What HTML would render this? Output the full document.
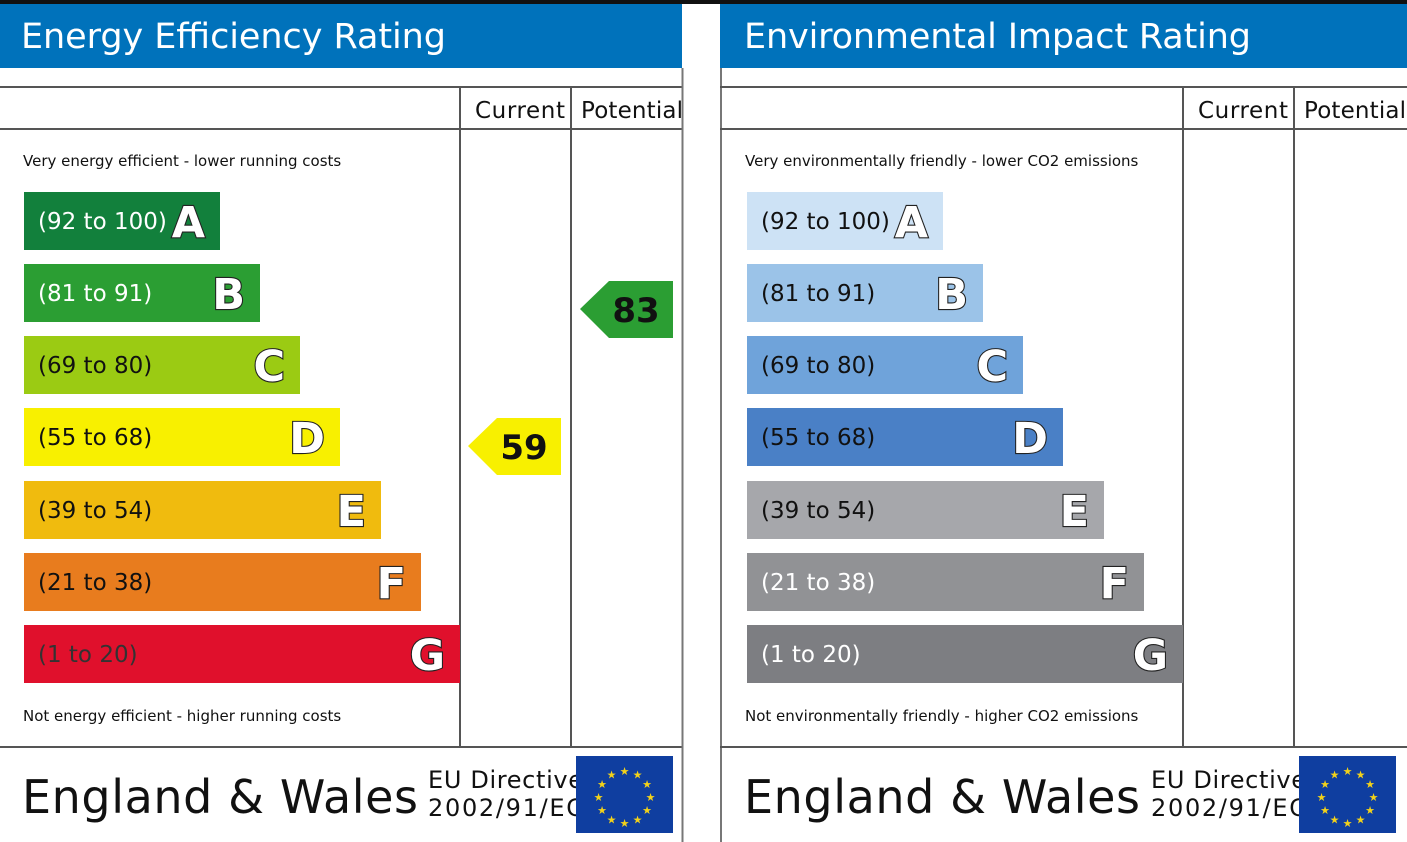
<!DOCTYPE html>
<html><head><meta charset="utf-8"><style>
html,body{margin:0;padding:0;background:#fff;width:1407px;height:842px;overflow:hidden}
svg{display:block;font-family:"DejaVu Sans","Liberation Sans",sans-serif}
.let{font-weight:bold;font-size:43px;fill:#fff;stroke:#222;stroke-width:2.2px;paint-order:stroke}
</style></head><body>
<svg width="1407" height="842" viewBox="0 0 1407 842">
<rect x="0" y="0" width="1407" height="4" fill="#111"/>
<defs><clipPath id="cl"><rect x="0" y="0" width="682" height="842"/></clipPath><clipPath id="cr"><rect x="720" y="0" width="687" height="842"/></clipPath></defs>
<g id="L" clip-path="url(#cl)">
<rect x="0" y="4" width="683" height="64" fill="#0072bb"/>
<text x="21" y="48" font-size="35" fill="#fff" textLength="425">Energy Efficiency Rating</text>
<g stroke="#555" stroke-width="2" fill="none">
<line x1="0" y1="87" x2="683" y2="87"/><line x1="0" y1="129" x2="683" y2="129"/>
<line x1="0" y1="747" x2="683" y2="747"/>
<line x1="460" y1="87" x2="460" y2="747"/><line x1="571" y1="87" x2="571" y2="747"/>
</g>
<text x="475" y="118" font-size="23" fill="#111" textLength="90">Current</text>
<text x="581" y="118" font-size="23" fill="#111" textLength="102">Potential</text>
<text x="23" y="166" font-size="15" fill="#111">Very energy efficient - lower running costs</text>
<text x="23" y="721" font-size="15" fill="#111">Not energy efficient - higher running costs</text>
<rect x="24" y="192" width="196" height="58" fill="#12803c"/>
<rect x="24" y="264" width="236" height="58" fill="#2b9e33"/>
<rect x="24" y="336" width="276" height="58" fill="#9bcb13"/>
<rect x="24" y="408" width="316" height="58" fill="#f8f000"/>
<rect x="24" y="481" width="357" height="58" fill="#f0bb0e"/>
<rect x="24" y="553" width="397" height="58" fill="#e87c1e"/>
<rect x="24" y="625" width="436" height="58" fill="#e0102c"/>
<g font-size="23">
<text x="38" y="229" fill="#fff">(92 to 100)</text>
<text x="38" y="301" fill="#fff">(81 to 91)</text>
<text x="38" y="373" fill="#111">(69 to 80)</text>
<text x="38" y="445" fill="#111">(55 to 68)</text>
<text x="38" y="518" fill="#111">(39 to 54)</text>
<text x="38" y="590" fill="#111">(21 to 38)</text>
<text x="38" y="662" fill="#333">(1 to 20)</text>
</g>
<g class="let" text-anchor="end">
<text x="205" y="237">A</text><text x="245" y="309">B</text><text x="285" y="381">C</text>
<text x="325" y="453">D</text><text x="366" y="526">E</text><text x="406" y="598">F</text><text x="445" y="670">G</text>
</g>
<polygon points="468,446 497,418 561,418 561,475 497,475" fill="#f8f000"/>
<text x="524" y="459" font-size="34" font-weight="bold" text-anchor="middle" fill="#111">59</text>
<polygon points="580,309 609,281 673,281 673,338 609,338" fill="#2b9e33"/>
<text x="636" y="322" font-size="34" font-weight="bold" text-anchor="middle" fill="#111">83</text>
<text x="22" y="813" font-size="46" fill="#111" textLength="396">England &amp; Wales</text>
<text x="428" y="788" font-size="24" fill="#111" textLength="155">EU Directive</text>
<text x="428" y="816" font-size="24" fill="#111" textLength="155">2002/91/EC</text>
<rect x="576" y="756" width="97" height="77" fill="#0f3ea0"/>
<g fill="#f3d21a" font-size="11" text-anchor="middle">
<text x="624.5" y="775">★</text><text x="637.5" y="778.5">★</text><text x="647" y="788">★</text>
<text x="650.5" y="801">★</text><text x="647" y="814">★</text><text x="637.5" y="823.5">★</text>
<text x="624.5" y="827">★</text><text x="611.5" y="823.5">★</text><text x="602" y="814">★</text>
<text x="598.5" y="801">★</text><text x="602" y="788">★</text><text x="611.5" y="778.5">★</text>
</g>
</g>
<line x1="682.5" y1="68" x2="682.5" y2="842" stroke="#777" stroke-width="2"/>
<line x1="721" y1="68" x2="721" y2="842" stroke="#777" stroke-width="2"/>
<g id="R" clip-path="url(#cr)">
<rect x="720" y="4" width="687" height="64" fill="#0072bb"/>
<text x="744" y="48" font-size="35" fill="#fff" textLength="507">Environmental Impact Rating</text>
<g stroke="#555" stroke-width="2" fill="none">
<line x1="720" y1="87" x2="1407" y2="87"/><line x1="720" y1="129" x2="1407" y2="129"/>
<line x1="720" y1="747" x2="1407" y2="747"/>
<line x1="1183" y1="87" x2="1183" y2="747"/><line x1="1294" y1="87" x2="1294" y2="747"/>
</g>
<text x="1198" y="118" font-size="23" fill="#111" textLength="90">Current</text>
<text x="1304" y="118" font-size="23" fill="#111" textLength="102">Potential</text>
<text x="745" y="166" font-size="15" fill="#111">Very environmentally friendly - lower CO2 emissions</text>
<text x="745" y="721" font-size="15" fill="#111">Not environmentally friendly - higher CO2 emissions</text>
<rect x="747" y="192" width="196" height="58" fill="#cde2f5"/>
<rect x="747" y="264" width="236" height="58" fill="#9bc3e8"/>
<rect x="747" y="336" width="276" height="58" fill="#6fa3da"/>
<rect x="747" y="408" width="316" height="58" fill="#4a80c6"/>
<rect x="747" y="481" width="357" height="58" fill="#a6a7ab"/>
<rect x="747" y="553" width="397" height="58" fill="#919295"/>
<rect x="747" y="625" width="436" height="58" fill="#7d7e82"/>
<g font-size="23">
<text x="761" y="229" fill="#111">(92 to 100)</text>
<text x="761" y="301" fill="#111">(81 to 91)</text>
<text x="761" y="373" fill="#111">(69 to 80)</text>
<text x="761" y="445" fill="#111">(55 to 68)</text>
<text x="761" y="518" fill="#111">(39 to 54)</text>
<text x="761" y="590" fill="#fff">(21 to 38)</text>
<text x="761" y="662" fill="#fff">(1 to 20)</text>
</g>
<g class="let" text-anchor="end">
<text x="928" y="237">A</text><text x="968" y="309">B</text><text x="1008" y="381">C</text>
<text x="1048" y="453">D</text><text x="1089" y="526">E</text><text x="1129" y="598">F</text><text x="1168" y="670">G</text>
</g>
<text x="744" y="813" font-size="46" fill="#111" textLength="396">England &amp; Wales</text>
<text x="1151" y="788" font-size="24" fill="#111" textLength="155">EU Directive</text>
<text x="1151" y="816" font-size="24" fill="#111" textLength="155">2002/91/EC</text>
<rect x="1299" y="756" width="97" height="77" fill="#0f3ea0"/>
<g fill="#f3d21a" font-size="11" text-anchor="middle">
<text x="1347.5" y="775">★</text><text x="1360.5" y="778.5">★</text><text x="1370" y="788">★</text>
<text x="1373.5" y="801">★</text><text x="1370" y="814">★</text><text x="1360.5" y="823.5">★</text>
<text x="1347.5" y="827">★</text><text x="1334.5" y="823.5">★</text><text x="1325" y="814">★</text>
<text x="1321.5" y="801">★</text><text x="1325" y="788">★</text><text x="1334.5" y="778.5">★</text>
</g>
</g>
</svg>
</body></html>
